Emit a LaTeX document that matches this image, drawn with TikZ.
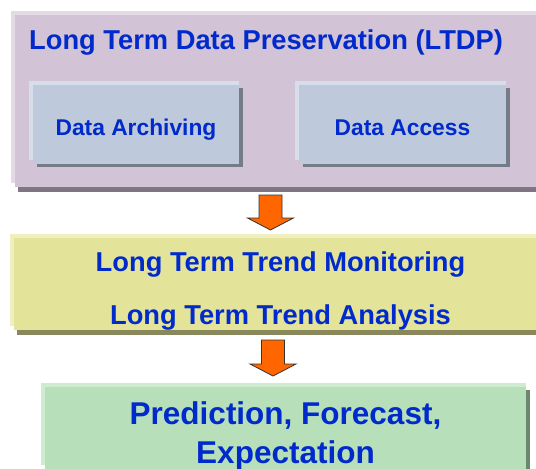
\documentclass[tikz,border=0pt]{standalone}
\usepackage{fontspec}
\setmainfont{Liberation Sans}
\usepackage{tikz}
\usetikzlibrary{shapes,arrows,calc}
\definecolor{txtblue}{RGB}{0,42,204}
\definecolor{arrorange}{RGB}{255,102,0}
\definecolor{ltdpfill}{RGB}{210,195,214}
\definecolor{ltdplite}{RGB}{227,218,229}
\definecolor{ltdpdark}{RGB}{128,117,130}
\definecolor{taskfill}{RGB}{190,201,219}
\definecolor{tasklite}{RGB}{215,222,234}
\definecolor{taskdark}{RGB}{118,124,135}
\definecolor{trendfill}{RGB}{227,227,153}
\definecolor{trendlite}{RGB}{239,239,192}
\definecolor{trenddark}{RGB}{136,136,92}
\definecolor{goalfill}{RGB}{183,224,186}
\definecolor{goallite}{RGB}{207,236,209}
\definecolor{goaldark}{RGB}{108,135,110}
\tikzstyle{panel} = [rectangle, inner sep=0pt, outer sep=0pt, fill=#1fill, text=txtblue]
\tikzstyle{title} = [text=txtblue, inner sep=0pt,
    font=\fontsize{27.3}{30}\selectfont\bfseries]
\tikzstyle{flow} = [draw=black!80, fill=arrorange, line width=0.8pt,
    to path={($(\tikztostart)+(-11.5,0)$) -- ($(\tikztotarget)+(-11.5,-12)$)
    -- ($(\tikztotarget)+(-23,-12)$) -- (\tikztotarget)
    -- ($(\tikztotarget)+(23,-12)$) -- ($(\tikztotarget)+(11.5,-12)$)
    -- ($(\tikztostart)+(11.5,0)$) -- cycle}]
% light rim on top/left, dark shadow along the bottom of a panel
\newcommand{\panelrim}[4]{%
    \fill[#2lite] ([shift={(-4,-4)}]#1.north west) rectangle (#1.north east);
    \fill[#2lite] ([shift={(-4,-4)}]#1.north west) rectangle ([shift={(0,-4)}]#1.south west);
    \fill[#2dark] ([shift={(#3,0)}]#1.south west) rectangle ([shift={(0,#4)}]#1.south east);}
% dark shadow on the right side, for panels that end inside the picture
\newcommand{\panelside}[4]{%
    \fill[#2dark] ([shift={(0,#4)}]#1.north east) rectangle ([shift={(#3,#4)}]#1.south east);}

\begin{document}
\begin{tikzpicture}[x=1pt, y=-1pt]
    \useasboundingbox (0,0) rectangle (536,469);
    % Place nodes
    % LTDP block
    \node [panel=ltdp, minimum width=521pt, minimum height=172pt] (ltdp) at (275.5,101) {};
    \panelrim{ltdp}{ltdp}{3}{5}
    \node [title, anchor=base west] (ltdptitle) at (29,49.5) {Long Term Data Preservation (LTDP)};
    \node [panel=task, minimum width=206pt, minimum height=79pt, text height=21pt, text depth=0pt,
        font=\fontsize{22.8}{26}\selectfont\bfseries] (arch) at (136,124.5) {Data Archiving};
    \node [panel=task, minimum width=207pt, minimum height=79pt, text height=21pt, text depth=0pt,
        font=\fontsize{22.8}{26}\selectfont\bfseries] (acc) at (402.5,124.5) {Data Access};
    \panelrim{arch}{task}{4}{3}
    \panelside{arch}{task}{4}{3}
    \panelrim{acc}{task}{4}{3}
    \panelside{acc}{task}{4}{3}

    % Trend block
    \node [panel=trend, minimum width=522pt, minimum height=92pt] (trend) at (275,284) {};
    \panelrim{trend}{trend}{3}{5}
    \node [text=txtblue, inner sep=0pt, align=center, text height=80pt, text depth=0pt,
        font=\fontsize{27.3}{52.5}\selectfont\bfseries] (trendtxt) at (280.5,284)
        {Long Term Trend Monitoring\\Long Term Trend Analysis};

    % Outcome block
    \node [panel=goal, minimum width=481pt, minimum height=82pt, align=center,
        text height=70.6pt, text depth=0pt,
        font=\fontsize{31.5}{39.3}\selectfont\bfseries] (goal) at (285.5,428)
        {Prediction, Forecast,\\Expectation};
    \panelrim{goal}{goal}{4}{3}
    \panelside{goal}{goal}{4}{3}

    % Arrow ends
    \coordinate (f1a) at (270.5,195);
    \coordinate (f1b) at (270.5,230);
    \coordinate (f2a) at (273,340);
    \coordinate (f2b) at (273,376);

    % Draw edges
    \draw [flow] (f1a) to (f1b);
    \draw [flow] (f2a) to (f2b);
\end{tikzpicture}
\end{document}
